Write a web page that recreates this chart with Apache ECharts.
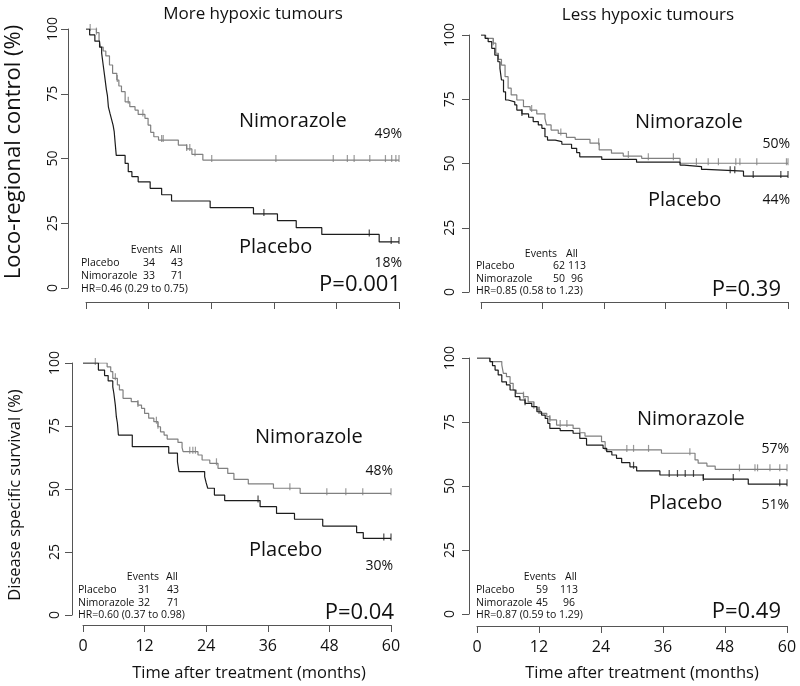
<!DOCTYPE html>
<html><head><meta charset="utf-8">
<script src="https://cdn.jsdelivr.net/npm/echarts/dist/echarts.min.js"></script>
<style>html,body{margin:0;padding:0;background:#fff}#c{width:800px;height:686px}</style>
</head><body><div id="c"></div><script>
// ---------- DATA ----------
const xTicksInterval = 12;  // 0,12,24,36,48,60
const yTicksInterval = 25;  // 0,25,50,75,100
const panelTitles = ['More hypoxic tumours', 'Less hypoxic tumours'];
const rowTitles = ['Loco-regional control (%)', 'Disease specific survival (%)'];
const xTitle = 'Time after treatment (months)';
const groups = ['Placebo', 'Nimorazole'];

// Panel 1: LRC, more hypoxic
const p1Placebo = [[0,100],[0.7,97.7],[1.7,95.3],[2.6,93.0],[3.0,90.7],[3.3,86.0],[3.6,81.4],[3.9,76.7],[4.1,74.4],[4.3,69.8],[4.6,67.4],[4.9,65.1],[5.2,62.8],[5.4,60.5],[5.6,55.8],[5.8,51.2],[7.5,48.1],[8.1,44.9],[8.8,43.0],[10.0,41.0],[12.3,38.5],[14.5,36.0],[16.4,33.6],[23.8,31.0],[32.1,28.6],[36.7,26.0],[40.3,23.3],[45.2,20.7],[56.2,17.8],[60,17.8]];
const p1Nimorazole = [[0,100],[2.0,98.6],[2.5,95.8],[2.8,93.0],[3.3,91.5],[3.8,89.6],[4.5,86.1],[5.1,82.9],[5.9,80.3],[6.3,78.0],[6.8,75.8],[7.5,71.9],[8.4,70.0],[9.4,68.7],[10.0,67.0],[11.3,65.5],[11.9,62.9],[12.4,60.1],[13.0,58.4],[13.9,57.1],[17.7,55.2],[19.3,53.7],[20.3,51.6],[22.4,49.4],[60,49.4]];
const p1PlaceboCens = [34.1, 54.3, 58.5, 60];
const p1NimorazoleCens = [0.8, 2.0, 6.0, 8.1, 10.9, 14.5, 14.8, 19.3, 19.9, 20.9, 24.1, 36.4, 47.4, 50.1, 51.4, 54.4, 57.4, 58.6, 59.4, 60];

// Panel 2: LRC, less hypoxic
const p2Placebo = [[0,100],[0.8,98.7],[1.4,97.4],[2.1,94.8],[2.7,92.2],[3.3,89.6],[3.7,87.0],[4.0,82.5],[4.4,77.9],[4.8,74.7],[5.3,74.0],[6.6,72.8],[7.0,70.8],[8.0,69.3],[9.3,68.0],[10.2,66.3],[11.2,65.0],[11.9,63.7],[12.5,60.4],[13.0,59.1],[14.5,58.5],[15.8,57.5],[17.7,55.9],[18.7,54.2],[19.3,52.6],[23.6,51.6],[30.4,50.5],[38.9,49.4],[39.7,48.8],[43.1,47.7],[44.0,47.0],[51.3,45.1],[60,45.1]];
const p2Nimorazole = [[0,100],[0.9,98.7],[2.4,96.8],[2.9,92.9],[3.4,90.5],[4.0,88.3],[4.7,83.8],[5.3,79.3],[5.9,76.7],[7.0,74.7],[8.3,72.1],[9.6,70.8],[10.9,69.3],[12.5,67.6],[12.8,65.0],[13.7,63.0],[15.1,61.7],[16.7,60.2],[18.4,59.4],[21.3,57.9],[23.1,55.3],[25.5,54.0],[27.8,52.9],[31.4,52.0],[38.9,50.1],[60,50.1]];
const p2PlaceboCens = [8.0, 48.7, 49.6, 53.2, 58.6, 60];
const p2NimorazoleCens = [2.4, 9.9, 15.6, 23.0, 28.8, 32.7, 37.6, 42.1, 44.4, 46.4, 49.8, 50.6, 53.9, 59.7, 60];

// Panel 3: DSS, more hypoxic
const p3Placebo = [[0,100],[3.0,97.2],[4.2,95.0],[4.9,92.9],[5.8,90.5],[6.0,88.1],[6.3,83.3],[6.5,78.6],[6.7,76.2],[6.9,71.4],[9.6,66.8],[16.7,64.2],[18.4,60.8],[18.7,56.9],[23.7,54.9],[24.0,52.4],[24.3,50.3],[25.6,47.6],[27.6,45.4],[34.5,43.0],[37.7,40.3],[41.2,38.0],[46.7,35.3],[53.3,32.7],[54.6,30.4],[60,30.4]];
const p3Nimorazole = [[0,100],[4.7,98.5],[5.4,96.6],[5.8,93.9],[6.7,91.3],[7.1,89.3],[7.8,86.0],[9.4,84.7],[10.7,83.3],[11.4,82.0],[12.0,80.0],[12.8,78.1],[13.8,76.7],[14.6,74.7],[15.1,72.7],[15.8,71.4],[16.4,69.8],[18.5,68.5],[19.3,66.4],[19.5,64.8],[22.4,63.5],[23.2,61.5],[24.7,60.2],[26.3,58.2],[28.2,56.2],[29.4,53.8],[32.2,52.0],[37.1,50.3],[42.3,48.3],[60,48.3]];
const p3PlaceboCens = [34.1, 58.6, 60];
const p3NimorazoleCens = [2.4, 6.3, 10.7, 14.3, 14.6, 20.8, 21.4, 21.9, 26.0, 40.3, 47.5, 51.2, 54.5, 60];

// Panel 4: DSS, less hypoxic
const p4Placebo = [[0,100],[2.5,98.6],[3.0,97.0],[3.5,95.3],[4.1,93.4],[4.8,90.7],[5.7,89.5],[6.4,87.5],[7.4,84.9],[8.3,83.6],[9.3,82.3],[10.6,81.0],[11.6,79.0],[12.5,77.7],[13.2,76.4],[13.7,74.5],[14.1,72.5],[16.1,71.6],[18.6,70.6],[19.9,68.6],[21.2,66.0],[24.4,64.7],[25.1,63.4],[26.1,62.1],[27.0,60.8],[28.0,59.1],[29.6,57.5],[30.9,55.9],[35.4,54.3],[43.8,52.7],[52.5,50.7],[60,50.7]];
const p4Nimorazole = [[0,100],[2.5,98.6],[4.8,97.3],[5.1,94.0],[5.7,92.7],[6.4,90.1],[7.0,87.5],[7.6,86.2],[9.0,84.9],[9.9,82.9],[11.0,81.0],[11.6,79.7],[12.2,78.4],[13.5,77.1],[14.1,75.8],[15.4,73.8],[18.6,72.5],[19.9,70.8],[20.9,69.5],[24.1,67.3],[24.8,64.1],[35.7,62.8],[42.2,60.2],[42.8,58.9],[44.5,57.8],[46.1,56.5],[60,56.5]];
const p4PlaceboCens = [9.3, 12.0, 30.3, 37.2, 38.8, 40.3, 41.9, 43.8, 49.6, 58.6, 60];
const p4NimorazoleCens = [9.0, 11.0, 14.1, 16.1, 17.4, 29.0, 30.3, 33.2, 41.2, 50.8, 53.8, 54.3, 56.7, 58.6, 60];

// Annotations per panel
const endPct = [['18%','49%'],['44%','50%'],['30%','48%'],['51%','57%']]; // [placebo, nimorazole]
const pValues = ['P=0.001', 'P=0.39', 'P=0.04', 'P=0.49'];
const events = [[34,33],[62,50],[31,32],[59,45]];
const totals = [[43,71],[113,96],[43,71],[113,96]];
const hrText = ['HR=0.46 (0.29 to 0.75)','HR=0.85 (0.58 to 1.23)','HR=0.60 (0.37 to 0.98)','HR=0.87 (0.59 to 1.29)'];

// ---------- LAYOUT ----------
const FONT = '"Open Sans", "Noto Sans", sans-serif';
const curvesPl = [p1Placebo, p2Placebo, p3Placebo, p4Placebo];
const curvesNi = [p1Nimorazole, p2Nimorazole, p3Nimorazole, p4Nimorazole];
const censPl = [p1PlaceboCens, p2PlaceboCens, p3PlaceboCens, p4PlaceboCens];
const censNi = [p1NimorazoleCens, p2NimorazoleCens, p3NimorazoleCens, p4NimorazoleCens];

const grids = [
  {left:86, top:29, width:313, height:259},
  {left:481, top:35, width:307, height:257},
  {left:83, top:363, width:308, height:252},
  {left:477, top:358, width:310, height:256}
];
const xOff = [14, 10, 10, 12];
const yOff = [18, 12, 11, 8];
const yLabMargin = [8, 12, 10, 12];

const colPl = '#1c1c1c', colNi = '#808080', axisCol = '#555';

function survAt(curve, t){ let v = curve[0][1]; for (const p of curve){ if (p[0] <= t) v = p[1]; } return v; }

const xAxes = [], yAxes = [], series = [];
for (let i=0;i<4;i++){
  xAxes.push({gridIndex:i, type:'value', min:0, max:60, interval:xTicksInterval, offset:xOff[i],
    axisLine:{show:true, onZero:false, lineStyle:{color:axisCol, width:1}},
    axisTick:{show:true, length:7, lineStyle:{color:axisCol}},
    axisLabel:{show:i>=2, fontSize:16, color:'#111', margin:13, fontFamily:FONT},
    splitLine:{show:false}});
  yAxes.push({gridIndex:i, type:'value', min:0, max:100, interval:yTicksInterval, offset:yOff[i],
    axisLine:{show:true, onZero:false, lineStyle:{color:axisCol, width:1}},
    axisTick:{show:true, length:7, lineStyle:{color:axisCol}},
    axisLabel:{rotate:90, fontSize:14, color:'#111', margin:yLabMargin[i], fontFamily:FONT},
    splitLine:{show:false}});
  [[curvesNi[i], censNi[i], colNi], [curvesPl[i], censPl[i], colPl]].forEach(([curve, cens, col])=>{
    series.push({type:'line', xAxisIndex:i, yAxisIndex:i, data:curve, step:'end', showSymbol:false,
      lineStyle:{color:col, width:1.2}, silent:true, animation:false});
    series.push({type:'scatter', xAxisIndex:i, yAxisIndex:i, data:cens.map(t=>[t, survAt(curve,t)]),
      symbol:'rect', symbolSize:[1.2,7], symbolOffset:[0,-1.5], itemStyle:{color:col}, silent:true, animation:false});
  });
}

// text annotations
const g = [];
function txt(x, y, text, size, align, extra){
  g.push(Object.assign({type:'text', x:x, y:y, silent:true,
    style:{text:text, font:size+'px '+FONT, fill:'#111', textAlign:align||'left', textVerticalAlign:'middle'}}, extra||{}));
}
// panel titles
txt(253, 14, panelTitles[0], 17, 'center');
txt(648, 15, panelTitles[1], 17, 'center');
// row titles (rotated)
txt(14, 152, rowTitles[0], 22, 'center', {rotation:Math.PI/2});
txt(15, 495, rowTitles[1], 16.5, 'center', {rotation:Math.PI/2});
// x titles
txt(249, 673, xTitle, 16.5, 'center');
txt(642, 673, xTitle, 16.5, 'center');

// ev/al: [header right edge, number column centre]
const ann = [
  {ni:[239,121], niPct:[402,134], pl:[239,247], plPct:[402,263], p:[401,285], tab:[81,250], ev:[163,149], al:[182,177]},
  {ni:[635,122], niPct:[790,144], pl:[648,200], plPct:[790,200], p:[781,290], tab:[476,254], ev:[557,559], al:[578,577]},
  {ni:[255,437], niPct:[393,471], pl:[249,550], plPct:[393,566], p:[394,613], tab:[78,577], ev:[159,144], al:[178,173]},
  {ni:[637,419], niPct:[789,449], pl:[649,503], plPct:[789,505], p:[781,612], tab:[476,577], ev:[556,542], al:[577,569]}
];
const rowGap = [13, 12.3, 12.8, 12.8];
ann.forEach((a,i)=>{
  txt(a.ni[0], a.ni[1], groups[1], 20, 'left');
  txt(a.pl[0], a.pl[1], groups[0], 20, 'left');
  txt(a.niPct[0], a.niPct[1], endPct[i][1], 14, 'right');
  txt(a.plPct[0], a.plPct[1], endPct[i][0], 14, 'right');
  txt(a.p[0], a.p[1], pValues[i], 22, 'right');
  const y0 = a.tab[1], dy = rowGap[i], fs = 10.5;
  txt(a.ev[0], y0, 'Events', fs, 'right');
  txt(a.al[0], y0, 'All', fs, 'right');
  groups.forEach((gname, k)=>{
    const y = y0 + dy*(k+1);
    txt(a.tab[0], y, gname, fs, 'left');
    txt(a.ev[1], y, String(events[i][k]), fs, 'center');
    txt(a.al[1], y, String(totals[i][k]), fs, 'center');
  });
  txt(a.tab[0], y0 + dy*3, hrText[i], fs, 'left');
});

const chart = echarts.init(document.getElementById('c'), null, {renderer:'canvas'});
chart.setOption({
  animation:false,
  backgroundColor:'#fff',
  grid: grids.map(gr=>Object.assign({containLabel:false}, gr)),
  xAxis: xAxes, yAxis: yAxes, series: series, graphic: g
});
</script></body></html>
